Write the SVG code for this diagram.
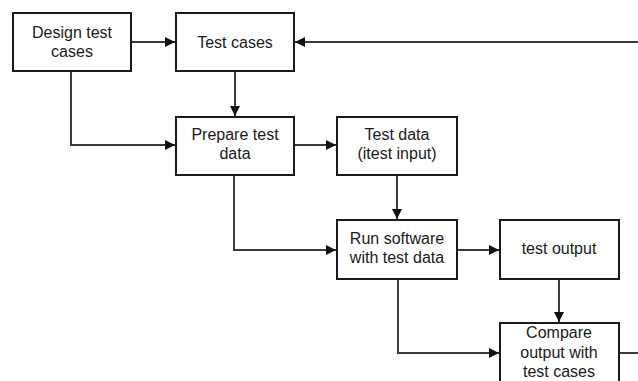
<svg xmlns="http://www.w3.org/2000/svg" width="638" height="381" viewBox="0 0 638 381">
  <style>
    .box { fill: #ffffff; stroke: #1a1a1a; stroke-width: 2; }
    .lbl { font-family: "Liberation Sans", Arial, sans-serif; font-size: 16px; fill: #1a1a1a; text-anchor: middle; }
    .wire { fill: none; stroke: #3a3a3a; stroke-width: 2; }
  </style>
  <defs>
    <marker id="arrow" viewBox="0 0 10 10" refX="10" refY="5" markerWidth="10" markerHeight="10" markerUnits="userSpaceOnUse" orient="auto">
      <path d="M0,0 L10,5 L0,10 Z" fill="#111"/>
    </marker>
  </defs>
  <rect width="638" height="381" fill="#ffffff"/>

  <g id="connectors">
    <path class="wire" d="M131,42 H175" marker-end="url(#arrow)"/>
    <path class="wire" d="M638,42 H295" marker-end="url(#arrow)"/>
    <path class="wire" d="M71,71 V145 H175" marker-end="url(#arrow)"/>
    <path class="wire" d="M235,71 V116" marker-end="url(#arrow)"/>
    <path class="wire" d="M294,145 H336" marker-end="url(#arrow)"/>
    <path class="wire" d="M397,175 V219" marker-end="url(#arrow)"/>
    <path class="wire" d="M234,175 V250 H336" marker-end="url(#arrow)"/>
    <path class="wire" d="M457,250 H499" marker-end="url(#arrow)"/>
    <path class="wire" d="M559,279 V322" marker-end="url(#arrow)"/>
    <path class="wire" d="M398,279 V353 H499" marker-end="url(#arrow)"/>
    <path class="wire" d="M619,353 H638"/>
  </g>

  <g id="design-test-cases">
    <rect class="box" x="13" y="13" width="118" height="58"/>
    <text class="lbl" x="72" y="38">Design test</text>
    <text class="lbl" x="72" y="57">cases</text>
  </g>
  <g id="test-cases">
    <rect class="box" x="176" y="13" width="118" height="58"/>
    <text class="lbl" x="235" y="48">Test cases</text>
  </g>
  <g id="prepare-test-data">
    <rect class="box" x="176" y="117" width="118" height="58"/>
    <text class="lbl" x="235" y="140">Prepare test</text>
    <text class="lbl" x="235" y="159">data</text>
  </g>
  <g id="test-data">
    <rect class="box" x="337" y="117" width="120" height="58"/>
    <text class="lbl" x="397" y="140">Test data</text>
    <text class="lbl" x="397" y="159">(itest input)</text>
  </g>
  <g id="run-software">
    <rect class="box" x="337" y="220" width="120" height="59"/>
    <text class="lbl" x="397" y="244">Run software</text>
    <text class="lbl" x="397" y="263">with test data</text>
  </g>
  <g id="test-output">
    <rect class="box" x="500" y="220" width="119" height="59"/>
    <text class="lbl" x="559" y="254">test output</text>
  </g>
  <g id="compare-output">
    <rect class="box" x="500" y="323" width="119" height="70"/>
    <text class="lbl" x="559" y="338">Compare</text>
    <text class="lbl" x="559" y="358">output with</text>
    <text class="lbl" x="559" y="377">test cases</text>
  </g>
</svg>
